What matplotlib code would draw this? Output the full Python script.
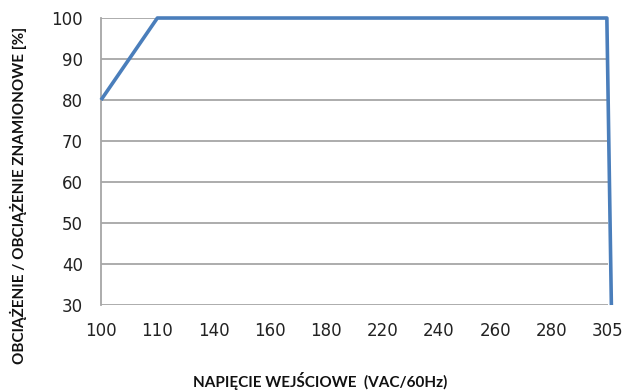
import matplotlib
matplotlib.use("Agg")
import matplotlib.pyplot as plt

# category axis (equally spaced ticks)
voltage_ticks = ["100", "110", "140", "160", "180", "220", "240", "260", "280", "305"]
y_ticks = [30, 40, 50, 60, 70, 80, 90, 100]

# derating curve, x given as position on the category axis
curve_x = [0, 1, 8.98, 9.06]
curve_load = [80, 100, 100, 30]

fig = plt.figure(figsize=(6.41, 3.90), dpi=100)
ax = fig.add_axes([0.1576, 0.2179, 0.7909, 0.7359])

for y in y_ticks:
    ax.axhline(y, color="#a6a6a6", lw=1.3, zorder=1)

ax.plot(curve_x, curve_load, color="#4a7ebb", lw=2.6, zorder=3, clip_on=False,
        solid_capstyle="butt")

ax.set_xlim(0, 9)
ax.set_ylim(30, 100)
ax.set_xticks(range(len(voltage_ticks)))
ax.set_xticklabels(voltage_ticks)
ax.set_yticks(y_ticks)
ax.tick_params(length=0, labelsize=12, labelcolor="#222222")
ax.tick_params(axis="x", pad=12)
ax.tick_params(axis="y", pad=13)

for s in ["top", "right", "bottom"]:
    ax.spines[s].set_visible(False)
ax.spines["left"].set_color("#a6a6a6")
ax.spines["left"].set_linewidth(1.3)

fig.text(0.5, 0.023, "NAPIĘCIE WEJŚCIOWE  (VAC/60Hz)", ha="center", va="center",
         fontsize=11, fontweight="bold", family="Lato", color="#111111")
fig.text(0.028, 0.50, "OBCIĄŻENIE / OBCIĄŻENIE ZNAMIONOWE [%]", ha="center",
         va="center", rotation=90, fontsize=11, fontweight="bold", family="Lato",
         color="#111111")

fig.savefig("out.png", dpi=100)
